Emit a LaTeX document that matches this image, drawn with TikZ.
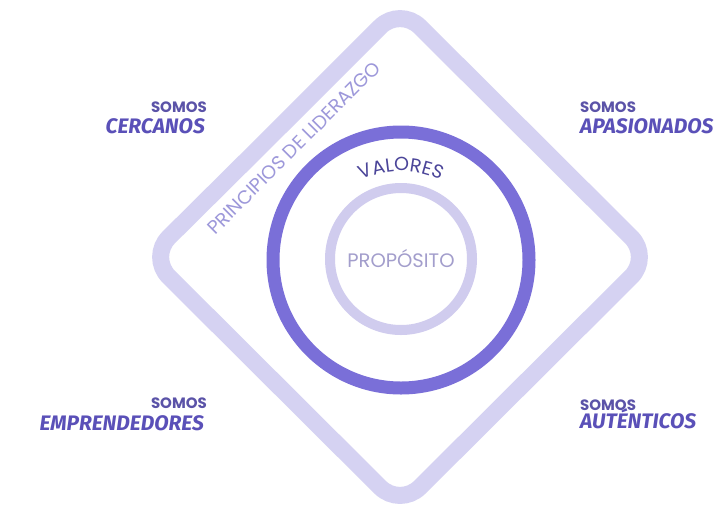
\documentclass[tikz,border=0pt]{standalone}
\usepackage{fontspec}
\usetikzlibrary{decorations.text}
\newfontfamily\popfont{Poppins}
\newfontfamily\handfont{Fira Sans}
\definecolor{diamc}{HTML}{D5D2F2}
\definecolor{ringc}{HTML}{7A6FD8}
\definecolor{innerc}{HTML}{D0CCEE}
\definecolor{propc}{HTML}{A39ECC}
\definecolor{valc}{HTML}{4B4599}
\definecolor{princ}{HTML}{9D98DA}
\definecolor{somosc}{HTML}{5B53A8}
\definecolor{handc}{HTML}{5A50B8}
\begin{document}
\begin{tikzpicture}[x=1pt,y=-1pt,
  diamondline/.style={draw=diamc,line width=17pt,rounded corners=28pt},
  ringline/.style={draw=ringc,line width=13pt},
  innerline/.style={draw=innerc,line width=10pt},
  somoslbl/.style={inner sep=0pt,font=\popfont\bfseries\fontsize{15}{15}\selectfont,text=somosc},
  handlbl/.style={inner sep=0pt,font=\handfont\itshape\bfseries\fontsize{21}{21}\selectfont,text=handc},
  princlbl/.style={inner sep=0pt,font=\popfont\fontsize{19}{19}\selectfont,text=princ},
  proplbl/.style={inner sep=0pt,font=\popfont\fontsize{19.5}{19.5}\selectfont,text=propc}
]
\useasboundingbox (0,0) rectangle (723,504);
\fill[white] (0,0) rectangle (723,504);
% diamond
\draw[diamondline] (275,132) -- (400,7) -- (651,257) -- (400,507) -- (149,257) -- cycle;
% rings
\draw[ringline] (401,260) circle[radius=128];
\draw[innerline] (401,259) circle[radius=71];
% center text
\node[proplbl] (prop) at (401,259) {PROPÓSITO};
% valores along arc
\path[decorate,decoration={text along path,text align=center,
  text={|\popfont\fontsize{19}{19}\selectfont\color{valc}|VALORES}}]
  (401,260) ++(208:89) arc[start angle=208,end angle=332,radius=89];
% principios
\node[princlbl,rotate=45] (princ) at (294,148) {PRINCIPIOS DE LIDERAZGO};
% corner labels
\node[somoslbl,anchor=base east] (s1) at (207,112) {SOMOS};
\node[handlbl,anchor=base east] (h1) at (205,133) {CERCANOS};
\node[somoslbl,anchor=base west] (s2) at (580,112) {SOMOS};
\node[handlbl,anchor=base west] (h2) at (580,133) {APASIONADOS};
\node[somoslbl,anchor=base east] (s3) at (207,408) {SOMOS};
\node[handlbl,anchor=base east] (h3) at (204,430) {EMPRENDEDORES};
\node[somoslbl,anchor=base west] (s4) at (580,410) {SOMOS};
\node[handlbl,anchor=base west] (h4) at (580,428) {AUTÉNTICOS};
\end{tikzpicture}
\end{document}
